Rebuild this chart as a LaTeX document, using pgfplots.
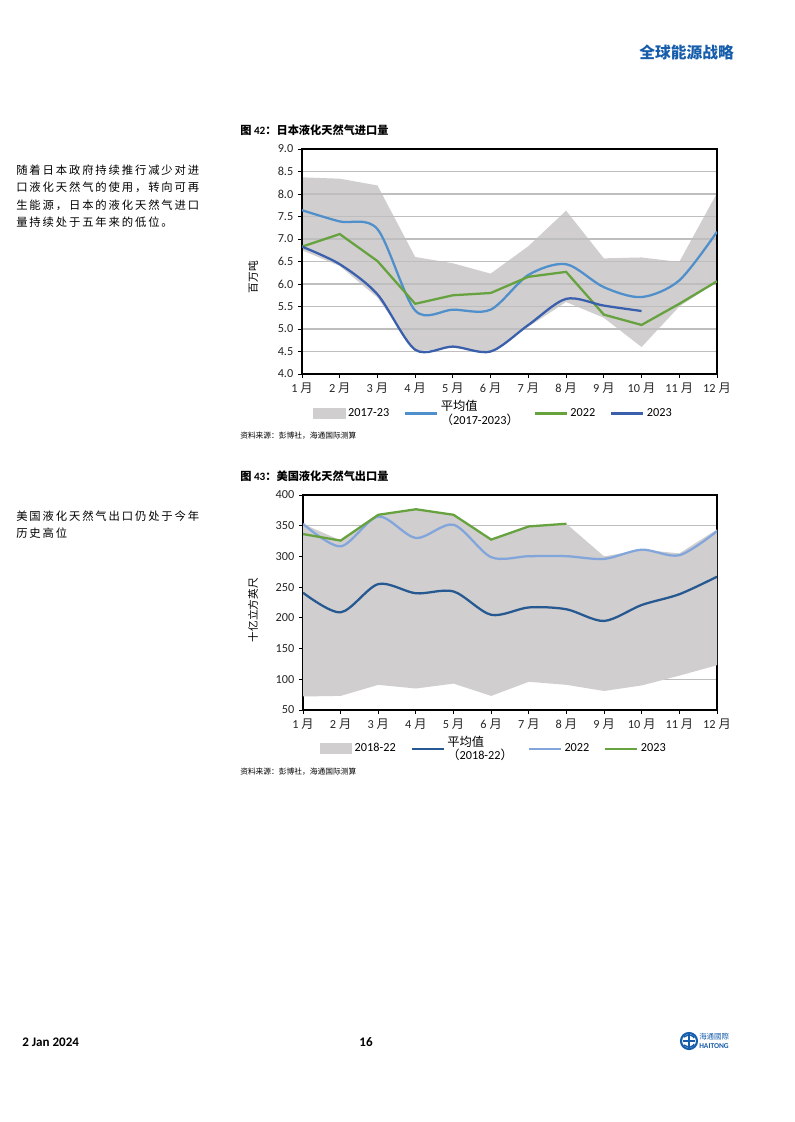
\documentclass[border=0pt]{standalone}
\usepackage{fontspec}
\setmainfont{Carlito}
\newfontfamily\cjk{Noto Sans CJK SC}
\usepackage{pgfplots}
\pgfplotsset{compat=1.18}
\definecolor{rangegray}{HTML}{D0CECE}
\definecolor{gridgray}{HTML}{BEBEBE}
\definecolor{cAvgA}{RGB}{79,143,204}
\definecolor{cGreen}{RGB}{102,162,62}
\definecolor{cDarkA}{RGB}{58,95,172}
\definecolor{cAvgB}{RGB}{38,88,145}
\definecolor{cLightB}{RGB}{130,166,220}
\definecolor{headblue}{RGB}{22,93,172}
\def\ls#1{\ifx#1\relax\else#1\kern1.4pt\expandafter\ls\fi}
\newcommand\mo[1]{#1\hspace{2.2pt}{\cjk 月}}
\pgfplotsset{
  myaxis/.style={
    scale only axis,
    xmin=1, xmax=12, xtick={1,...,12},
    xticklabels={\mo{1},\mo{2},\mo{3},\mo{4},\mo{5},\mo{6},\mo{7},\mo{8},\mo{9},\mo{10},\mo{11},\mo{12}},
    xtick pos=bottom, ytick pos=left,
    tick align=outside, major tick length=3pt,
    tick style={black, line width=0.7pt},
    axis line style={black, line width=0.9pt},
    ymajorgrids, grid style={draw=gridgray, line width=0.8pt},
    ticklabel style={font=\fontsize{9.2}{10}\selectfont, text=black!85},
    legend style={draw=none, fill=none, legend columns=4,
      font=\fontsize{9.2}{10}\selectfont,
      /tikz/every even column/.append style={column sep=9pt},
      nodes={align=left, inner sep=2pt}},
    legend cell align=left,
    legend image code/.code={\draw[##1] (0pt,0pt) -- (24pt,0pt);},
  }
}
\begin{document}
\begin{tikzpicture}
\path[use as bounding box, fill=white] (0,0) rectangle (595.5pt,-841.5pt);
\begin{scope}[x=0.75pt,y=-0.75pt]
% header
\node[anchor=east, inner sep=0, text=headblue, font=\cjk\bfseries\fontsize{11.8}{13}\selectfont] at (734,52) {全球能源战略};
% side text
\begin{scope}[every node/.style={anchor=west, inner sep=0, font=\cjk\fontsize{8.5}{10}\selectfont}]
\node at (16,170) {\ls 随着日本政府持续推行减少对进\relax};
\node at (16,187.5) {\ls 口液化天然气的使用，转向可再\relax};
\node at (16,205) {\ls 生能源，日本的液化天然气进口\relax};
\node at (16,222.5) {\ls 量持续处于五年来的低位。\relax};
\node at (16,516) {\ls 美国液化天然气出口仍处于今年\relax};
\node at (16,533) {\ls 历史高位\relax};
\end{scope}
% titles
\node[anchor=west, inner sep=0, font=\fontsize{8.4}{10}\selectfont\bfseries] at (240,130) {{\cjk 图} 42{\cjk ：日本液化天然气进口量}};
\node[anchor=west, inner sep=0, font=\fontsize{8.4}{10}\selectfont\bfseries] at (240,476) {{\cjk 图} 43{\cjk ：美国液化天然气出口量}};
% sources
\node[anchor=west, inner sep=0, font=\cjk\fontsize{5.8}{7}\selectfont] at (240,436) {资料来源：彭博社，海通国际测算};
\node[anchor=west, inner sep=0, font=\cjk\fontsize{5.8}{7}\selectfont] at (240,772) {资料来源：彭博社，海通国际测算};
% y labels
\node[rotate=90, inner sep=0, font=\cjk\fontsize{8}{9}\selectfont] at (253,277) {百万吨};
\node[rotate=90, inner sep=0, font=\cjk\fontsize{8}{9}\selectfont] at (253,610) {十亿立方英尺};
% footer
\node[anchor=west, inner sep=0, font=\bfseries\fontsize{9.8}{11}\selectfont] at (22,1042) {2 Jan 2024};
\node[inner sep=0, font=\bfseries\fontsize{9.8}{11}\selectfont] at (366,1042) {16};
\draw[headblue, line width=1.6pt] (689,1041) circle (8);
\draw[headblue, line width=1.3pt] (683,1041) -- (695,1041) (689,1034) -- (689,1048);
\draw[headblue, line width=1.1pt] (684,1037) .. controls (689,1033) and (694,1036) .. (694,1038) (684,1045) .. controls (689,1049) and (694,1046) .. (694,1044);
\node[anchor=west, inner sep=0, text=headblue, font=\cjk\fontsize{5.6}{6}\selectfont] at (699,1036.5) {海通國際};
\node[anchor=west, inner sep=0, text=headblue, font=\bfseries\fontsize{5.6}{6}\selectfont] at (699,1046.5) {HAITONG};
\end{scope}

% ---------- Chart 1: range fill (underneath grid) ----------
\begin{axis}[
  at={(226.5pt,-280.5pt)}, anchor=south west,
  scale only axis, width=311.25pt, height=168.75pt,
  xmin=1, xmax=12, ymin=4, ymax=9, hide axis,
]
\addplot[draw=none, fill=rangegray]
  coordinates {(1,8.37) (2,8.34) (3,8.19) (4,6.60) (5,6.46) (6,6.23) (7,6.84) (8,7.63) (9,6.57) (10,6.59) (11,6.49) (12,8.02)
   (12,6.05) (11,5.50) (10,4.60) (9,5.25) (8,5.60) (7,5.05) (6,4.48) (5,4.58) (4,4.50) (3,5.70) (2,6.40) (1,6.75) (1,8.37)};
\end{axis}
% ---------- Chart 1 ----------
\begin{axis}[myaxis,
  at={(226.5pt,-280.5pt)}, anchor=south west,
  width=311.25pt, height=168.75pt,
  ymin=4, ymax=9,
  ytick={4,4.5,5,5.5,6,6.5,7,7.5,8,8.5,9},
  yticklabel style={/pgf/number format/.cd, fixed, fixed zerofill, precision=1, assume math mode=true},
  legend style={at={(0.462,-0.175)}, anchor=center},
]
\addlegendimage{legend image code/.code={\fill[rangegray] (0pt,-4pt) rectangle (24pt,4pt);}}
\addlegendentry{2017-23}
\addplot[cAvgA, line width=1.7pt, smooth, tension=0.5]
  coordinates {(1,7.64) (2,7.39) (3,7.22) (4,5.41) (5,5.43) (6,5.43) (7,6.20) (8,6.44) (9,5.93) (10,5.71) (11,6.08) (12,7.16)};
\addlegendentry{{\cjk 平均值}\\{\cjk （}2017-2023{\cjk ）}}
\addplot[cGreen, line width=1.7pt]
  coordinates {(1,6.83) (2,7.11) (3,6.51) (4,5.56) (5,5.75) (6,5.80) (7,6.16) (8,6.27) (9,5.32) (10,5.09) (11,5.56) (12,6.06)};
\addlegendentry{2022}
\addplot[cDarkA, line width=1.7pt, smooth, tension=0.5]
  coordinates {(1,6.83) (2,6.44) (3,5.77) (4,4.54) (5,4.61) (6,4.50) (7,5.09) (8,5.67) (9,5.52) (10,5.40)};
\addlegendentry{2023}
\end{axis}

% ---------- Chart 2 ----------
\begin{axis}[myaxis,
  at={(227.25pt,-532.5pt)}, anchor=south west,
  width=310.5pt, height=161.25pt,
  ymin=50, ymax=400,
  ytick={50,100,...,400},
  yticklabel style={/pgf/number format/assume math mode=true},
  legend style={at={(0.462,-0.18)}, anchor=center},
]
\addplot[draw=none, fill=rangegray,
  legend image code/.code={\fill[rangegray] (0pt,-4pt) rectangle (24pt,4pt);}]
  coordinates {(1,353) (2,326) (3,368) (4,377) (5,368) (6,327) (7,349) (8,353) (9,300) (10,311) (11,305) (12,344)
   (12,123) (11,106) (10,90) (9,81) (8,91) (7,96) (6,73) (5,93) (4,85) (3,91) (2,73) (1,72) (1,353)};
\addlegendentry{2018-22}
\addplot[cAvgB, line width=1.7pt, smooth, tension=0.5]
  coordinates {(1,241) (2,209) (3,255) (4,240) (5,243) (6,205) (7,217) (8,214) (9,195) (10,221) (11,238.5) (12,267)};
\addlegendentry{{\cjk 平均值}\\{\cjk （}2018-22{\cjk ）}}
\addplot[cLightB, line width=1.7pt, smooth, tension=0.5]
  coordinates {(1,353) (2,316.5) (3,365) (4,330) (5,351.6) (6,298.8) (7,300.4) (8,300.4) (9,296) (10,311) (11,302) (12,341)};
\addlegendentry{2022}
\addplot[cGreen, line width=1.7pt]
  coordinates {(1,336.4) (2,325.8) (3,367.8) (4,376.8) (5,367.8) (6,327.4) (7,348.9) (8,353.2)};
\addlegendentry{2023}
\end{axis}
\end{tikzpicture}
\end{document}
